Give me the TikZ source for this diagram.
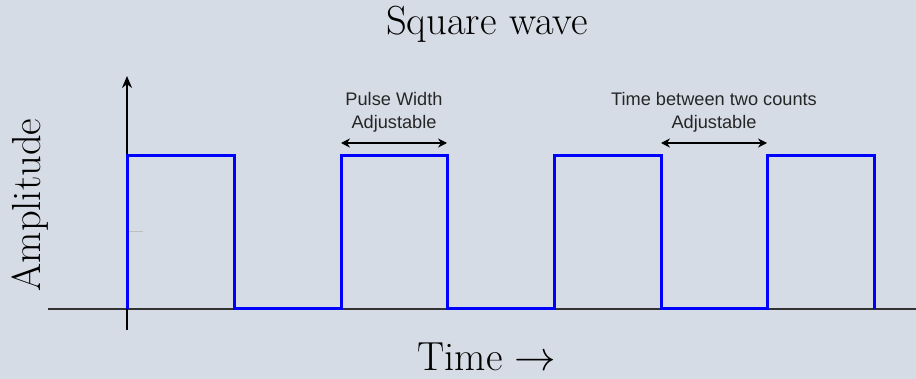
\documentclass[tikz,border=0pt]{standalone}
\usepackage{fontspec}
\newfontfamily\notefont{Liberation Sans}
\usetikzlibrary{arrows.meta}
\definecolor{bgcol}{RGB}{214,220,229}
\definecolor{wavecol}{RGB}{0,0,255}
\definecolor{notecol}{RGB}{38,38,38}
\tikzset{
  bigtext/.style={font=\fontsize{20.3}{22}\selectfont},
  notetext/.style={font=\notefont\fontsize{9.1}{11.5}\selectfont, text=notecol, align=center, inner sep=0pt},
  wave/.style={draw=wavecol, line width=1.5pt, line join=miter},
  spanarrow/.style={draw=black, line width=0.7pt, {Stealth[length=4.5pt,width=4.5pt]}-{Stealth[length=4.5pt,width=4.5pt]}}
}

\begin{document}
\begin{tikzpicture}[x=0.5pt,y=-0.5pt]
\fill[bgcol] (0,0) rectangle (916,379);
\useasboundingbox (0,0) rectangle (916,379);

% labels
\node[bigtext] (title) at (487,24) {Square wave};
\node[bigtext] (xlabel) at (487,357) {Time $\rightarrow$};
\node[bigtext, rotate=90] (ylabel) at (30,205) {Amplitude};

% axes
\coordinate (xstart) at (48,309);
\coordinate (xend) at (916,309);
\coordinate (ystart) at (127,330);
\coordinate (yend) at (127,76);
\draw[black!80, line width=1pt] (xstart) -- (xend);
\draw[black, line width=1pt, -{Stealth[length=6pt,width=5pt]}] (ystart) -- (yend);
\draw[black!25, line width=0.5pt] (129,232) -- (143,232);

% wave
\draw[wave] (127,309) -- (127,156) -- (234,156) -- (234,309) -- (341,309)
  -- (341,156) -- (447,156) -- (447,309) -- (554,309)
  -- (554,156) -- (661,156) -- (661,309) -- (767,309)
  -- (767,156) -- (874,156) -- (874,309);

% annotations
\node[notetext] (pulse) at (394,112) {Pulse Width\\Adjustable};
\coordinate (pulseL) at (341,143);
\coordinate (pulseR) at (447,143);
\draw[spanarrow] (pulseL) -- (pulseR);

\node[notetext] (gap) at (714,112) {Time between two counts\\Adjustable};
\coordinate (gapL) at (661,143);
\coordinate (gapR) at (767,143);
\draw[spanarrow] (gapL) -- (gapR);
\end{tikzpicture}
\end{document}
